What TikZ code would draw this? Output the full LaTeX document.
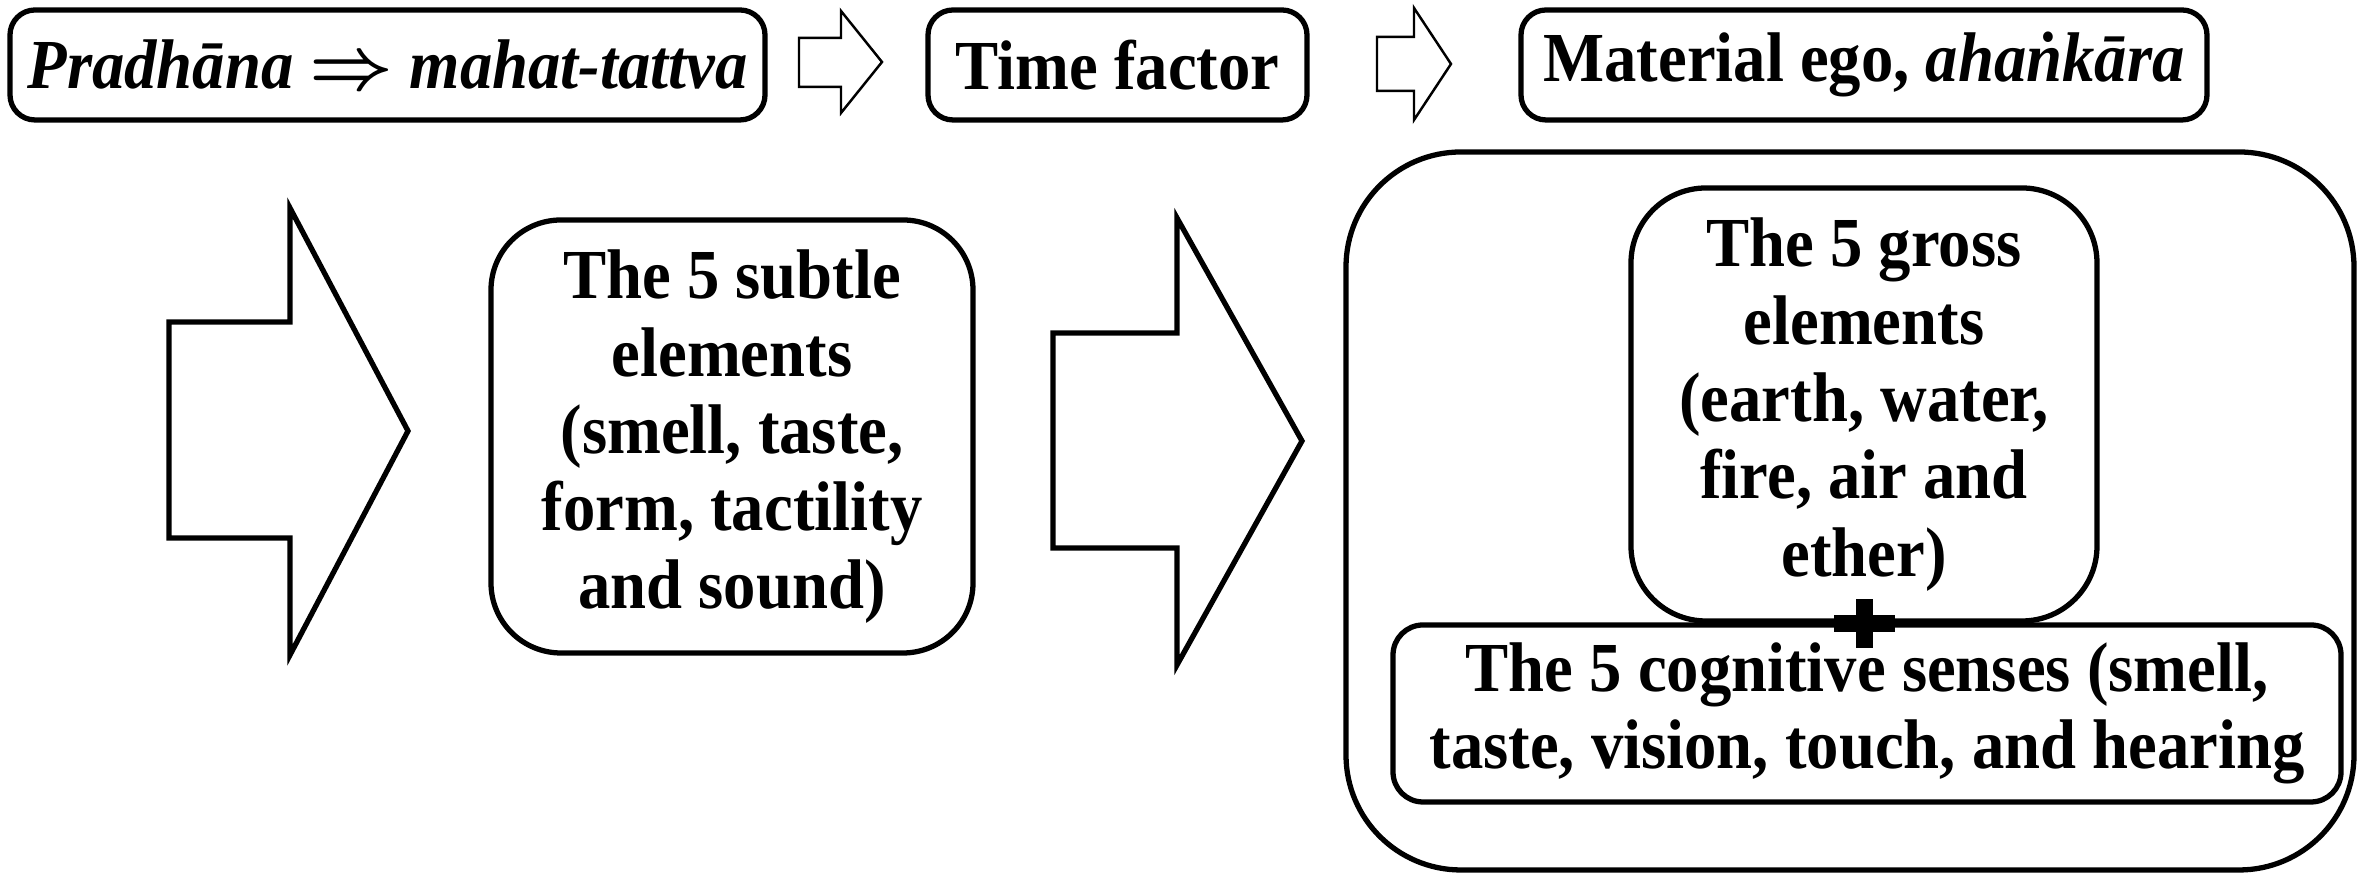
\documentclass[tikz,border=0pt]{standalone}
\usepackage{fontspec}
\setmainfont{Liberation Serif}[FakeStretch=0.92]
\tikzset{
  box/.style={draw, line width=1.5pt, rounded corners=#1, align=center, inner sep=0pt},
  box/.default=0.25cm,
  lbl/.style={font=\fontsize{20}{22}\selectfont\bfseries},
  bigarrow/.style={draw, line width=1.5pt, line join=miter},
  smallarrow/.style={draw, line width=0.7pt, line join=miter}
}

\begin{document}
\begin{tikzpicture}
  \useasboundingbox (0,0) rectangle (23.66,8.73);

  % top row
  \node[box, lbl, minimum width=7.55cm, minimum height=1.10cm] (prad) at (3.875,8.08)
    {\textit{Pradhāna} {\boldmath$\Rightarrow$} \textit{mahat-tattva}};
  \node[box, lbl, minimum width=3.79cm, minimum height=1.10cm] (time) at (11.175,8.08) {Time factor};
  \node[box, lbl, minimum width=6.86cm, minimum height=1.10cm] (ego) at (18.64,8.08)
    {Material ego, \textit{ahaṅkāra}};

  \draw[smallarrow] (7.99,8.35) -- (8.41,8.35) -- (8.41,8.62) -- (8.82,8.11)
    -- (8.41,7.60) -- (8.41,7.86) -- (7.99,7.86) -- cycle;
  \draw[smallarrow] (13.77,8.36) -- (14.14,8.36) -- (14.14,8.65) -- (14.51,8.09)
    -- (14.14,7.53) -- (14.14,7.82) -- (13.77,7.82) -- cycle;

  % second row
  \draw[bigarrow] (1.69,5.51) -- (2.90,5.51) -- (2.90,6.65) -- (4.08,4.42)
    -- (2.90,2.18) -- (2.90,3.35) -- (1.69,3.35) -- cycle;
  \node[box=0.7cm, lbl, minimum width=4.82cm, minimum height=4.33cm] (subtle) at (7.32,4.365)
    {The 5 subtle\\elements\\(smell, taste,\\form, tactility\\and sound)};
  \draw[bigarrow] (10.53,5.40) -- (11.77,5.40) -- (11.77,6.55) -- (13.02,4.32)
    -- (11.77,2.08) -- (11.77,3.25) -- (10.53,3.25) -- cycle;

  \node[box=1.15cm, minimum width=10.08cm, minimum height=7.18cm] (outer) at (18.50,3.62) {};
  \node[box=0.75cm, lbl, minimum width=4.66cm, minimum height=4.33cm] (gross) at (18.64,4.685)
    {The 5 gross\\elements\\(earth, water,\\fire, air and\\ether)};
  \node[box=0.3cm, lbl, minimum width=9.48cm, minimum height=1.77cm] (senses) at (18.67,1.595)
    {The 5 cognitive senses (smell,\\taste, vision, touch, and hearing};

  \coordinate (plus) at (gross.south);
  \fill ([xshift=-0.305cm,yshift=-0.085cm]plus) rectangle ++(0.61,0.17);
  \fill ([xshift=-0.085cm,yshift=-0.245cm]plus) rectangle ++(0.17,0.49);
\end{tikzpicture}
\end{document}
